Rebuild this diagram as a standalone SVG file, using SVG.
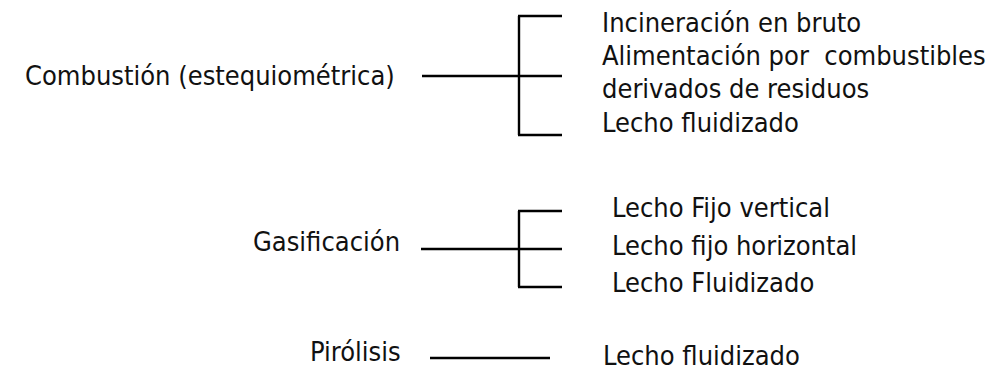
<svg xmlns="http://www.w3.org/2000/svg" width="1008" height="371" viewBox="0 0 1008 371">
<style>
text{font-family:"DejaVu Sans",sans-serif;font-stretch:condensed;font-size:27px;fill:#111}
.c{stroke:#000;stroke-width:2.4;fill:none}
</style>
<rect width="1008" height="371" fill="#fff"/>
<g id="combustion"><text x="25" y="85">Combustión (estequiométrica)</text></g>
<g id="gasificacion"><text x="253" y="251">Gasificación</text></g>
<g id="pirolisis"><text x="310" y="361">Pirólisis</text></g>
<g id="c1"><text x="602" y="32">Incineración en bruto</text></g>
<g id="c2"><text x="602" y="65" xml:space="preserve">Alimentación por  combustibles</text></g>
<g id="c3"><text x="602" y="98">derivados de residuos</text></g>
<g id="c4"><text x="602" y="132">Lecho fluidizado</text></g>
<g id="g1"><text x="612" y="217">Lecho Fijo vertical</text></g>
<g id="g2"><text x="612" y="255">Lecho fijo horizontal</text></g>
<g id="g3"><text x="612" y="292">Lecho Fluidizado</text></g>
<g id="p1"><text x="603" y="365">Lecho fluidizado</text></g>
<g id="connectors" class="c">
<path d="M422 76H562M519 16V135M518 16H562M518 135H562"/>
<path d="M421 249H562M519 211V287M518 211H562M518 287H562"/>
<path d="M430 358H550"/>
</g>
</svg>
